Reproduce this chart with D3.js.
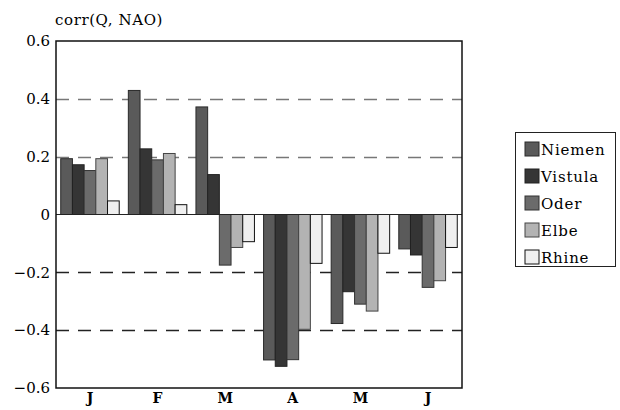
<!DOCTYPE html>
<html>
<head>
<meta charset="utf-8">
<script src="https://cdn.jsdelivr.net/npm/d3@7/dist/d3.min.js"></script>
<style>
  html, body { margin: 0; padding: 0; background: #fff; }
  svg { display: block; }
  text { font-family: "DejaVu Serif", "Liberation Serif", serif; fill: #000; }
</style>
</head>
<body>
<svg id="chart" width="620" height="410"></svg>
<script>
// Monthly correlation of river discharge with the NAO index
const months = ["J", "F", "M", "A", "M", "J"];
const rivers = ["Niemen", "Vistula", "Oder", "Elbe", "Rhine"];
const niemen  = [0.193, 0.429, 0.372, -0.503, -0.377, -0.119];
const vistula = [0.172, 0.227, 0.138, -0.525, -0.267, -0.140];
const oder    = [0.152, 0.189, -0.175, -0.502, -0.310, -0.252];
const elbe    = [0.193, 0.211, -0.114, -0.397, -0.334, -0.229];
const rhine   = [0.047, 0.034, -0.094, -0.169, -0.134, -0.114];
const yTicks  = [-0.6, -0.4, -0.2, 0, 0.2, 0.4, 0.6];
const gridLevels = [-0.4, -0.2, 0.2, 0.4];

const seriesValues = [niemen, vistula, oder, elbe, rhine];
const fills   = ["#5a5a5a", "#353535", "#6b6b6b", "#b3b3b3", "#efefef"];
const strokes = ["#2a2a2a", "#222222", "#333333", "#444444", "#111111"];

const svg = d3.select("#chart");
const plot = { left: 56, right: 462, top: 41, bottom: 388 };

const x0 = d3.scaleBand()
  .domain(d3.range(months.length))
  .range([plot.left, plot.right])
  .paddingInner(0.135)
  .paddingOuter(0.07);

const x1 = d3.scaleBand()
  .domain(d3.range(rivers.length))
  .range([0, x0.bandwidth()]);

const y = d3.scaleLinear().domain([-0.6, 0.6]).range([plot.bottom, plot.top]);

// dashed reference lines
svg.append("g").selectAll("line")
  .data(gridLevels)
  .join("line")
  .attr("x1", plot.left).attr("x2", plot.right)
  .attr("y1", d => Math.round(y(d)) + 0.5).attr("y2", d => Math.round(y(d)) + 0.5)
  .attr("stroke", d => d > 0 ? "#777" : "#222")
  .attr("stroke-width", 1.3)
  .attr("stroke-dasharray", "13,9");

// bars
const groups = svg.append("g").selectAll("g")
  .data(months.map((m, i) => i))
  .join("g")
  .attr("transform", i => `translate(${x0(i)},0)`);

groups.selectAll("rect")
  .data(i => seriesValues.map((vals, s) => ({ s, v: vals[i] })))
  .join("rect")
  .attr("x", d => x1(d.s))
  .attr("width", x1.bandwidth())
  .attr("y", d => y(Math.max(0, d.v)))
  .attr("height", d => Math.abs(y(d.v) - y(0)))
  .attr("fill", d => fills[d.s])
  .attr("stroke", d => strokes[d.s])
  .attr("stroke-width", 1);

// zero line
svg.append("line")
  .attr("x1", plot.left).attr("x2", plot.right)
  .attr("y1", y(0)).attr("y2", y(0))
  .attr("stroke", "#222").attr("stroke-width", 1.2);

// frame
svg.append("rect")
  .attr("x", plot.left).attr("y", plot.top)
  .attr("width", plot.right - plot.left).attr("height", plot.bottom - plot.top)
  .attr("fill", "none").attr("stroke", "#111").attr("stroke-width", 1.5);

// y axis
const yAxis = d3.axisLeft(y)
  .tickValues(yTicks)
  .tickSize(0)
  .tickPadding(6)
  .tickFormat(d => d === 0 ? "0" : d3.format(".1f")(d).replace("-", "\u2212"));
const yg = svg.append("g").attr("transform", `translate(${plot.left},0)`).call(yAxis);
yg.select(".domain").remove();
yg.selectAll("text").attr("font-size", 15).attr("font-family", "DejaVu Serif");

// x axis
const xAxis = d3.axisBottom(x0).tickSize(0).tickPadding(5).tickFormat(i => months[i]);
const xg = svg.append("g").attr("transform", `translate(0,${plot.bottom})`).call(xAxis);
xg.select(".domain").remove();
xg.selectAll("text").attr("font-size", 14).attr("font-weight", "bold").attr("font-family", "DejaVu Serif");

// title
svg.append("text")
  .attr("x", 55).attr("y", 25)
  .attr("font-size", 15)
  .attr("letter-spacing", 0.6)
  .text("corr(Q, NAO)");

// legend
const legend = svg.append("g");
legend.append("rect")
  .attr("x", 515.5).attr("y", 132.5).attr("width", 100).attr("height", 134)
  .attr("fill", "#fff").attr("stroke", "#222").attr("stroke-width", 1);
const items = legend.selectAll("g.item")
  .data(rivers)
  .join("g")
  .attr("class", "item")
  .attr("transform", (d, i) => `translate(525,${142 + i * 27})`);
items.append("rect")
  .attr("width", 14).attr("height", 14)
  .attr("fill", (d, i) => fills[i])
  .attr("stroke", (d, i) => strokes[i]);
items.append("text")
  .attr("x", 16).attr("y", 13)
  .attr("font-size", 15)
  .attr("letter-spacing", 0.8)
  .text(d => d);
</script>
</body>
</html>
